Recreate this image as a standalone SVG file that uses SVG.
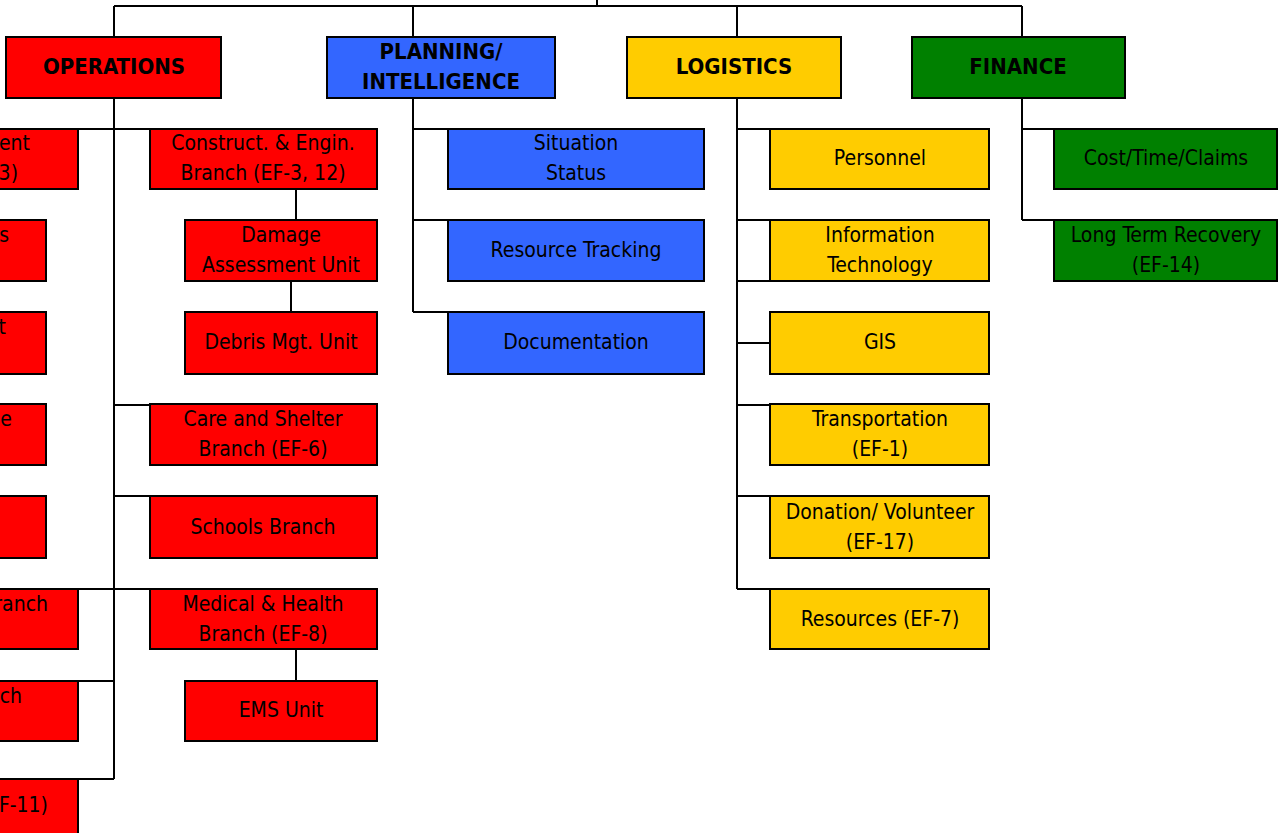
<svg xmlns="http://www.w3.org/2000/svg" width="1282" height="833" viewBox="0 0 1282 833">
<style>
.b{stroke:#000;stroke-width:2}
.r{fill:#FF0000}.u{fill:#3366FF}.y{fill:#FFCC00}.g{fill:#008000}
text{font-family:"DejaVu Sans Condensed","DejaVu Sans",Verdana,sans-serif;font-size:21px;fill:#000;text-anchor:middle}
.h{font-weight:bold;font-size:22px}
.e{text-anchor:end}
.c{fill:none;stroke:#000;stroke-width:2}
</style>
<rect width="1282" height="833" fill="#fff"/>
<g id="connectors" class="c">
<path d="M597 0V6M114 6H1022M114 6V37M413 6V37M737 6V37M1022 6V37"/>
<path d="M114 98V779M0 779H114M78 129H150M114 405H150M114 496H150M78 589H150M78 681H114"/>
<path d="M296 189V220M291 281V312M296 649V681"/>
<path d="M413 98V312M413 129H448M413 220H448M413 312H448"/>
<path d="M737 98V589M737 129H770M737 220H770M737 281H770M737 343H770M737 405H770M737 496H770M737 589H770"/>
<path d="M1022 98V220M1022 129H1054M1022 220H1054"/>
</g>
<g id="operations"><rect class="b r" x="6" y="37" width="215" height="61"/><text class="h" x="114" y="74">OPERATIONS</text></g>
<g id="planning"><rect class="b u" x="327" y="37" width="228" height="61"/><text class="h" x="441" y="59">PLANNING/</text><text class="h" x="441" y="89">INTELLIGENCE</text></g>
<g id="logistics"><rect class="b y" x="627" y="37" width="214" height="61"/><text class="h" x="734" y="74">LOGISTICS</text></g>
<g id="finance"><rect class="b g" x="912" y="37" width="213" height="61"/><text class="h" x="1018" y="74">FINANCE</text></g>

<g id="ops-left-1"><rect class="b r" x="-150" y="129" width="228" height="60"/><text class="e" x="30" y="150">ent</text><text class="e" x="18" y="180">3)</text></g>
<g id="ops-left-2"><rect class="b r" x="-150" y="220" width="196" height="61"/><text class="e" x="9" y="242">s</text></g>
<g id="ops-left-3"><rect class="b r" x="-150" y="312" width="196" height="62"/><text class="e" x="6" y="334">t</text></g>
<g id="ops-left-4"><rect class="b r" x="-150" y="404" width="196" height="61"/><text class="e" x="12" y="426">e</text></g>
<g id="ops-left-5"><rect class="b r" x="-150" y="496" width="196" height="62"/></g>
<g id="ops-left-6"><rect class="b r" x="-150" y="589" width="228" height="60"/><text class="e" x="48" y="611">ranch</text></g>
<g id="ops-left-7"><rect class="b r" x="-150" y="681" width="228" height="60"/><text class="e" x="22" y="703">ch</text></g>
<g id="ops-left-8"><rect class="b r" x="-150" y="779" width="228" height="70"/><text class="e" x="48" y="812">F-11)</text></g>

<g id="construct"><rect class="b r" x="150" y="129" width="227" height="60"/><text x="263" y="150">Construct. &amp; Engin.</text><text x="263" y="180">Branch (EF-3, 12)</text></g>
<g id="damage"><rect class="b r" x="185" y="220" width="192" height="61"/><text x="281" y="242">Damage</text><text x="281" y="272">Assessment Unit</text></g>
<g id="debris"><rect class="b r" x="185" y="312" width="192" height="62"/><text x="281" y="349">Debris Mgt. Unit</text></g>
<g id="care"><rect class="b r" x="150" y="404" width="227" height="61"/><text x="263" y="426">Care and Shelter</text><text x="263" y="456">Branch (EF-6)</text></g>
<g id="schools"><rect class="b r" x="150" y="496" width="227" height="62"/><text x="263" y="534">Schools Branch</text></g>
<g id="medical"><rect class="b r" x="150" y="589" width="227" height="60"/><text x="263" y="611">Medical &amp; Health</text><text x="263" y="641">Branch (EF-8)</text></g>
<g id="ems"><rect class="b r" x="185" y="681" width="192" height="60"/><text x="281" y="717">EMS Unit</text></g>

<g id="situation"><rect class="b u" x="448" y="129" width="256" height="60"/><text x="576" y="150">Situation</text><text x="576" y="180">Status</text></g>
<g id="resource-tracking"><rect class="b u" x="448" y="220" width="256" height="61"/><text x="576" y="257">Resource Tracking</text></g>
<g id="documentation"><rect class="b u" x="448" y="312" width="256" height="62"/><text x="576" y="349">Documentation</text></g>

<g id="personnel"><rect class="b y" x="770" y="129" width="219" height="60"/><text x="880" y="165">Personnel</text></g>
<g id="it"><rect class="b y" x="770" y="220" width="219" height="61"/><text x="880" y="242">Information</text><text x="880" y="272">Technology</text></g>
<g id="gis"><rect class="b y" x="770" y="312" width="219" height="62"/><text x="880" y="349">GIS</text></g>
<g id="transportation"><rect class="b y" x="770" y="404" width="219" height="61"/><text x="880" y="426">Transportation</text><text x="880" y="456">(EF-1)</text></g>
<g id="donation"><rect class="b y" x="770" y="496" width="219" height="62"/><text x="880" y="519">Donation/ Volunteer</text><text x="880" y="549">(EF-17)</text></g>
<g id="resources"><rect class="b y" x="770" y="589" width="219" height="60"/><text x="880" y="626">Resources (EF-7)</text></g>

<g id="cost"><rect class="b g" x="1054" y="129" width="223" height="60"/><text x="1166" y="165">Cost/Time/Claims</text></g>
<g id="ltr"><rect class="b g" x="1054" y="220" width="223" height="61"/><text x="1166" y="242">Long Term Recovery</text><text x="1166" y="272">(EF-14)</text></g>
</svg>
